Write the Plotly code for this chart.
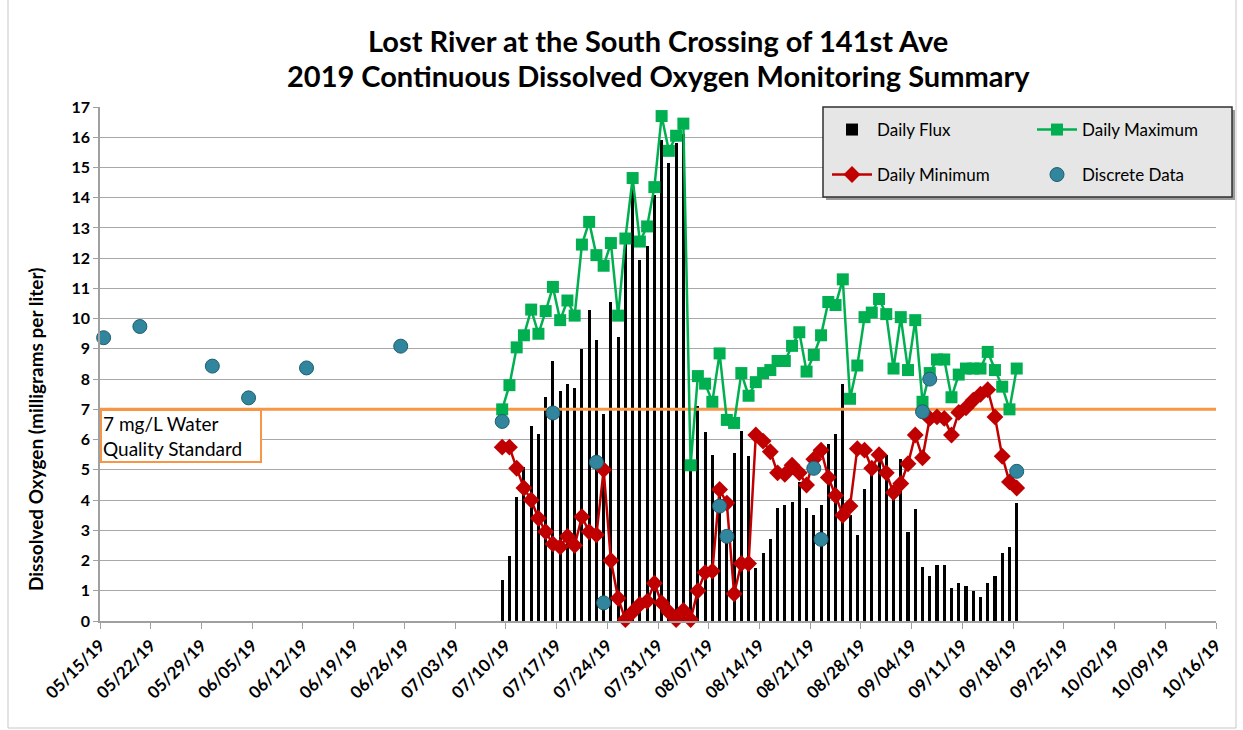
import plotly.graph_objects as go
import pandas as pd

# ---------------- data ----------------
daily_start = "2019-07-09 12:00"
daily_flux = [1.35, 2.15, 4.1, 5.1, 6.45, 6.2, 7.4, 8.6, 7.6, 7.85, 7.7, 9.0, 10.3, 9.3, 6.85, 10.55,
              9.4, 12.6, 14.3, 11.95, 12.4, 14.1, 15.9, 15.15, 15.8, 16.1, 5.1, 7.1, 6.25, 5.5, 4.5, 2.75,
              5.55, 6.3, 5.45, 1.75, 2.25, 2.7, 3.75, 3.85, 3.95, 4.6, 3.75, 3.5, 3.85, 5.85, 6.2, 7.85,
              3.5, 2.85, 4.35, 4.95, 5.6, 5.5, 4.45, 5.35, 2.95, 3.7, 1.8, 1.5, 1.85, 1.85, 1.1, 1.25,
              1.15, 1.0, 0.8, 1.25, 1.5, 2.25, 2.45, 3.9]
daily_max = [7.0, 7.8, 9.05, 9.45, 10.3, 9.5, 10.25, 11.05, 9.95, 10.6, 10.1, 12.45, 13.2, 12.1, 11.75, 12.5,
             10.1, 12.65, 14.65, 12.55, 13.05, 14.35, 16.7, 15.55, 16.05, 16.45, 5.15, 8.1, 7.85, 7.25, 8.85, 6.65,
             6.55, 8.2, 7.45, 7.9, 8.2, 8.3, 8.6, 8.6, 9.1, 9.55, 8.25, 8.8, 9.45, 10.55, 10.45, 11.3,
             7.35, 8.45, 10.05, 10.2, 10.65, 10.15, 8.35, 10.05, 8.3, 9.95, 7.25, 8.2, 8.65, 8.65, 7.4, 8.15,
             8.35, 8.35, 8.35, 8.9, 8.3, 7.75, 7.0, 8.35]
daily_min = [5.75, 5.75, 5.05, 4.4, 4.0, 3.4, 2.95, 2.55, 2.45, 2.8, 2.5, 3.45, 2.95, 2.85, 5.0, 2.0,
             0.75, 0.05, 0.3, 0.55, 0.65, 1.25, 0.6, 0.3, 0.05, 0.35, 0.05, 1.0, 1.6, 1.65, 4.35, 3.9,
             0.9, 1.9, 1.9, 6.15, 5.95, 5.6, 4.9, 4.85, 5.15, 4.9, 4.5, 5.35, 5.65, 4.75, 4.15, 3.5,
             3.8, 5.7, 5.65, 5.05, 5.5, 4.9, 4.25, 4.55, 5.2, 6.15, 5.4, 6.7, 6.75, 6.7, 6.15, 6.9,
             7.05, 7.3, 7.5, 7.65, 6.75, 5.45, 4.6, 4.4]
discrete_dates = ["2019-05-15", "2019-05-20", "2019-05-30", "2019-06-04", "2019-06-12", "2019-06-25",
                  "2019-07-09", "2019-07-16", "2019-07-22", "2019-07-23", "2019-08-08", "2019-08-09",
                  "2019-08-21", "2019-08-22", "2019-09-05", "2019-09-06", "2019-09-18", "2019-10-16"]
discrete_values = [9.37, 9.74, 8.43, 7.38, 8.37, 9.09, 6.6, 6.88, 5.25, 0.6, 3.8, 2.8,
                   5.05, 2.7, 6.92, 8.0, 4.95, 10.4]
STANDARD = 7
x_range = ["2019-05-15", "2019-10-16"]
title_lines = ["Lost River at the South Crossing of 141st Ave",
               "2019 Continuous Dissolved Oxygen Monitoring Summary"]

daily_dates = pd.date_range(daily_start, periods=len(daily_max), freq="D")
disc_dates = pd.to_datetime(discrete_dates) + pd.Timedelta(hours=12)

FONT = "Lato"
DAY_MS = 86400000

# plot area in px: left 100, right 1216, top 107, bottom 621
def px_x(px):
    return (px - 100) / 1116.0

def px_y(py):
    return (621 - py) / 514.0

fig = go.Figure()
fig.add_trace(go.Bar(x=daily_dates, y=daily_flux, name="Daily Flux", width=0.42 * DAY_MS,
                     marker=dict(color="black", line=dict(width=0)), legend="legend"))
fig.add_trace(go.Scatter(x=x_range, y=[STANDARD, STANDARD], mode="lines", showlegend=False,
                         line=dict(color="#F79646", width=3), hoverinfo="skip"))
fig.add_trace(go.Scatter(x=daily_dates, y=daily_max, name="Daily Maximum", mode="lines+markers",
                         line=dict(color="#00B050", width=2.5), cliponaxis=False,
                         marker=dict(symbol="square", size=12, color="#00B050"), legend="legend2"))
fig.add_trace(go.Scatter(x=daily_dates, y=daily_min, name="Daily Minimum", mode="lines+markers",
                         line=dict(color="#C00000", width=2.5), cliponaxis=False,
                         marker=dict(symbol="diamond", size=13, color="#C00000"), legend="legend3"))
fig.add_trace(go.Scatter(x=disc_dates, y=discrete_values, name="Discrete Data", mode="markers",
                         marker=dict(symbol="circle", size=14, color="#31859C",
                                     line=dict(color="#1F5F70", width=1)),
                         cliponaxis=False, legend="legend4"))

# legend box
fig.add_shape(type="rect", xref="paper", yref="paper", x0=px_x(826), x1=px_x(1235),
              y0=px_y(200), y1=px_y(110), fillcolor="#9a9a9a", line=dict(width=0), layer="above")
fig.add_shape(type="rect", xref="paper", yref="paper", x0=px_x(823), x1=px_x(1232),
              y0=px_y(197), y1=px_y(107), fillcolor="#e6e6e6", line=dict(color="#303030", width=1.5),
              layer="above")
# outer chart border
fig.add_shape(type="rect", xref="paper", yref="paper", x0=px_x(8), x1=px_x(1236),
              y0=px_y(728), y1=px_y(-5), fillcolor="rgba(0,0,0,0)",
              line=dict(color="#c8c8c8", width=1), layer="below")

for txt, py in zip(title_lines, [40, 75]):
    fig.add_annotation(text="<b>" + txt + "</b>", xref="paper", yref="paper", x=0.5, y=px_y(py),
                       xanchor="center", yanchor="middle", showarrow=False,
                       font=dict(family=FONT, size=29, color="black"))

fig.add_annotation(text="<b>Dissolved Oxygen (milligrams per liter)</b>", xref="paper", yref="paper",
                   x=px_x(35), y=px_y(430), textangle=-90, showarrow=False,
                   xanchor="center", yanchor="middle", font=dict(family=FONT, size=19, color="black"))

fig.add_annotation(text="7 mg/L Water<br>Quality Standard", xref="paper", yref="y",
                   x=0.0, y=STANDARD, xanchor="left", yanchor="top", showarrow=False, align="left",
                   width=156, height=48, borderpad=1, bordercolor="#F79646", borderwidth=2,
                   bgcolor="white", font=dict(family=FONT, size=19, color="black"))

leg_common = dict(orientation="v", xanchor="left", yanchor="middle", bgcolor="rgba(0,0,0,0)",
                  borderwidth=0, font=dict(family=FONT, size=17, color="black"), itemwidth=40)

fig.update_layout(
    width=1243, height=730,
    margin=dict(l=100, r=27, t=107, b=109),
    paper_bgcolor="white", plot_bgcolor="white",
    font=dict(family=FONT, color="black"),
    bargap=0,
    showlegend=True,
    legend=dict(x=px_x(827), y=px_y(130), **leg_common),
    legend2=dict(x=px_x(1032), y=px_y(130), **leg_common),
    legend3=dict(x=px_x(827), y=px_y(175), **leg_common),
    legend4=dict(x=px_x(1032), y=px_y(175), **leg_common),
    xaxis=dict(type="date", range=x_range, tick0=x_range[0], dtick=7 * DAY_MS, tickformat="%m/%d/%y",
               tickangle=-45, ticks="outside", ticklen=6, tickcolor="#a0a0a0", showgrid=False,
               showline=True, linecolor="#a0a0a0", linewidth=1.5,
               tickfont=dict(family=FONT, size=17, color="black", weight="bold")),
    yaxis=dict(range=[0, 17], dtick=1, showgrid=True, gridcolor="#a8a8a8", gridwidth=1,
               ticks="outside", ticklen=5, tickcolor="#a0a0a0", showline=True, linecolor="#a0a0a0",
               linewidth=1.5, zeroline=False,
               tickfont=dict(family=FONT, size=16, color="black", weight="bold")),
)

fig.write_html("out.html", post_script="document.body.style.margin='0';",
               config={"displayModeBar": False})
